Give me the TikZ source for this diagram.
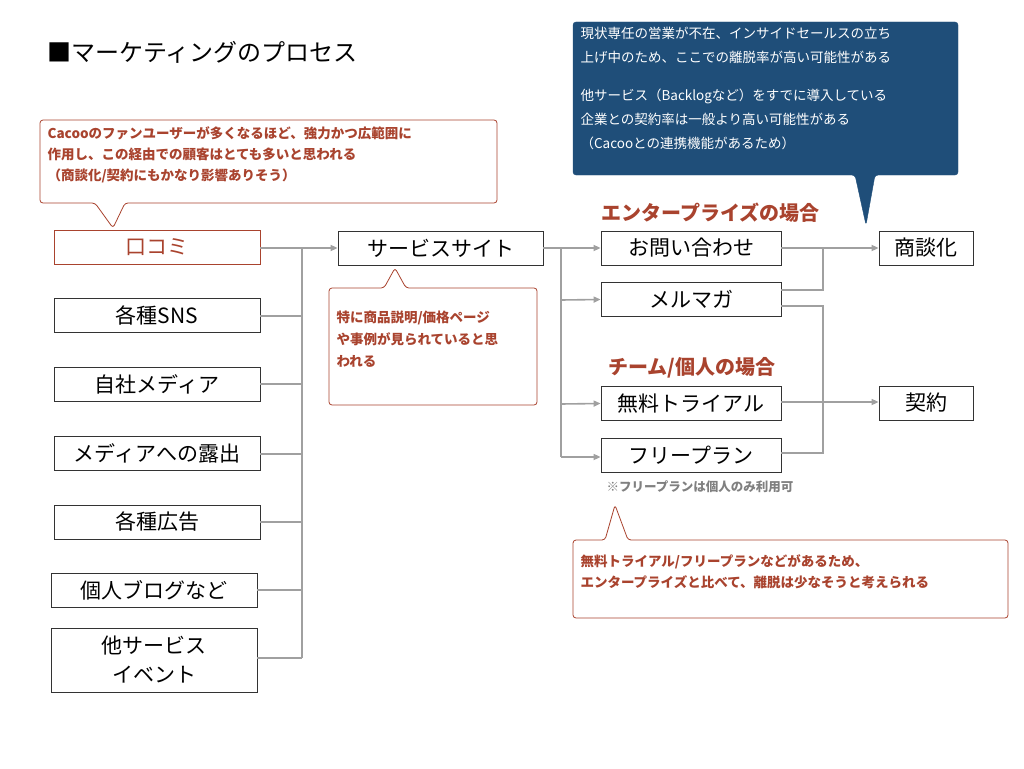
\documentclass[tikz,border=0pt]{standalone}
\usepackage{fontspec}
\setmainfont{Noto Sans CJK JP}
\usetikzlibrary{arrows.meta}
\definecolor{rd}{HTML}{A9432E}
\definecolor{bl}{HTML}{1F4E79}
\definecolor{ln}{HTML}{A0A0A0}
\begin{document}
\begin{tikzpicture}[x=1pt,y=-1pt,
 box/.style={draw=black!80,line width=0.8pt,inner sep=0pt,font=\fontsize{21}{24}\selectfont,align=center},
 con/.style={draw=ln,line width=1.6pt},
 arr/.style={con,-{Triangle[length=7pt,width=6pt]}},
 call/.style={font=\bfseries\fontsize{13.5}{21}\selectfont,text=rd,align=left,anchor=north west},
 lab/.style={font=\bfseries\fontsize{20}{22}\selectfont,text=rd,anchor=west}]
\useasboundingbox (0,0) rectangle (1024,768);
\node[anchor=west,font=\fontsize{24}{26}\selectfont] (title) at (44,52) {■マーケティングのプロセス};
% left boxes
\def\bx#1#2#3#4#5#6{\node[box,minimum width=#4pt,minimum height=#5pt,#6] (#1) at (#2,#3) {};}
\node[box,draw=rd,text=rd,minimum width=206pt,minimum height=34pt] (kuchi) at (157,247) {口コミ};
\node[box,minimum width=206pt,minimum height=34pt] (sns) at (157,315) {各種SNS};
\node[box,minimum width=206pt,minimum height=34pt] (jisha) at (157,384) {自社メディア};
\node[box,minimum width=206pt,minimum height=34pt] (roshutsu) at (157,453) {メディアへの露出};
\node[box,minimum width=206pt,minimum height=34pt] (kokoku) at (157,522) {各種広告};
\node[box,minimum width=206pt,minimum height=34pt] (blog) at (154,590) {個人ブログなど};
\node[box,minimum width=206pt,minimum height=64pt,font=\fontsize{21}{29}\selectfont] (ta) at (154,660) {他サービス\\イベント};
\node[box,minimum width=205pt,minimum height=34pt] (site) at (440.5,248) {サービスサイト};
\node[box,minimum width=180pt,minimum height=34pt] (toi) at (691,248) {お問い合わせ};
\node[box,minimum width=180pt,minimum height=34pt] (mel) at (691,299.5) {メルマガ};
\node[box,minimum width=180pt,minimum height=34pt] (muryo) at (691,403.5) {無料トライアル};
\node[box,minimum width=180pt,minimum height=34pt] (free) at (691,455) {フリープラン};
\node[box,minimum width=94pt,minimum height=34pt] (shodan) at (926,248) {商談化};
\node[box,minimum width=94pt,minimum height=34pt] (keiyaku) at (926,403) {契約};
\node[lab] (ent) at (598,213) {エンタープライズの場合};
\node[lab] (team) at (605,368) {チーム/個人の場合};
\node[anchor=west,font=\bfseries\fontsize{12.5}{14}\selectfont,text=black!50] (note) at (603,487) {※フリープランは個人のみ利用可};
% left bus
\coordinate (b1) at (302,248); \coordinate (b2) at (302,658);
\draw[con] (b1) -- (b2);
\foreach \n/\y in {kuchi/248,sns/316,jisha/384,roshutsu/454,kokoku/522,blog/590,ta/658}
  \draw[con] (\n.east|-0,\y) -- (302,\y);
\draw[arr] (b1) -- (site.west);
% right bus
\coordinate (c1) at (561,248); \coordinate (c2) at (561,457);
\draw[con] (site.east) -- (c1) -- (c2);
\draw[arr] (c1) -- (toi.west);
\draw[arr] (561,300) -- (mel.west);
\draw[arr] (561,404) -- (muryo.west);
\draw[arr] (c2) -- (free.west|-c2);
% outputs
\coordinate (d1) at (823,248);
\draw[con] (mel.east|-0,290) -- (823,290) -- (d1);
\draw[arr] (toi.east) -- (shodan.west);
\draw[con] (mel.east|-0,306) -- (823,306) -- (823,453) -- (free.east|-0,453);
\draw[arr] (muryo.east|-0,402) -- (keiyaku.west|-0,402);
% callouts
\draw[draw=rd,line width=0.8pt,fill=white,rounded corners=3pt] (40,120) -- (497,120) -- (497,203) -- (125,203) -- (113,228) -- (95,203) -- (40,203) -- cycle;
\node[call] (c1t) at (44,123) {Cacooのファンユーザーが多くなるほど、強力かつ広範囲に\\作用し、この経由での顧客はとても多いと思われる\\（商談化/契約にもかなり影響ありそう）};
\draw[draw=rd,line width=0.8pt,fill=white,rounded corners=3pt] (329,288) -- (384,288) -- (395,268) -- (406,288) -- (537,288) -- (537,405) -- (329,405) -- cycle;
\node[call,font=\bfseries\fontsize{13.5}{22}\selectfont] (c2t) at (333,307) {特に商品説明/価格ページ\\や事例が見られていると思\\われる};
\draw[draw=rd,line width=0.8pt,fill=white,rounded corners=3pt] (573,540) -- (605,540) -- (615,505) -- (628,540) -- (1008,540) -- (1008,618) -- (573,618) -- cycle;
\node[call] (c3t) at (577,551) {無料トライアル/フリープランなどがあるため、\\エンタープライズと比べて、離脱は少なそうと考えられる};
\draw[fill=bl,draw=bl,rounded corners=3pt] (573,22) -- (958,22) -- (958,175) -- (875,175) -- (866,225) -- (855,175) -- (573,175) -- cycle;
\node[anchor=north west,align=left,text=white,font=\fontsize{13.5}{24}\selectfont] (c4t) at (577,24) {現状専任の営業が不在、インサイドセールスの立ち\\上げ中のため、ここでの離脱率が高い可能性がある\\[14pt]他サービス（Backlogなど）をすでに導入している\\企業との契約率は一般より高い可能性がある\\（Cacooとの連携機能があるため）};
\end{tikzpicture}
\end{document}
